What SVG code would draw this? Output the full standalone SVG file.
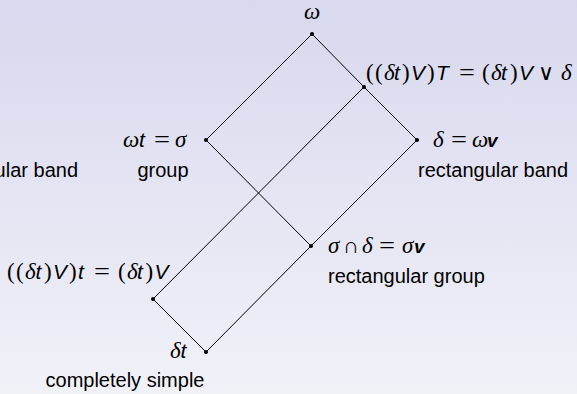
<svg xmlns="http://www.w3.org/2000/svg" width="577" height="394" viewBox="0 0 577 394">
<defs>
<linearGradient id="bg" x1="0" y1="0" x2="0" y2="1">
<stop offset="0" stop-color="#d8d8ee"/>
<stop offset="1" stop-color="#f1f1f8"/>
</linearGradient>
</defs>
<style>
.edge{stroke:#000;stroke-width:1;fill:none}
.dot{fill:#000}
.lbl{font-family:"Liberation Sans",Arial,sans-serif;font-size:20px;fill:#000}
.m{font-family:"Liberation Serif","Times New Roman",serif;font-size:23px;fill:#000}
.g{font-style:italic}
.s{font-family:"Liberation Sans",Arial,sans-serif;font-style:italic;font-size:21px}
.v{font-family:"Liberation Sans",Arial,sans-serif;font-style:italic;font-weight:bold;font-size:19px}
.op{font-family:"DejaVu Sans ExtraLight","DejaVu Sans",sans-serif;font-weight:200;font-size:22px}
.eq{font-family:"Liberation Serif","Times New Roman",serif;font-size:23px;fill:#000}
</style>
<rect width="577" height="394" fill="url(#bg)"/>
<g id="connectors">
<line class="edge" x1="312" y1="34" x2="206" y2="140"/>
<line class="edge" x1="312" y1="34" x2="364" y2="87"/>
<line class="edge" x1="364" y1="87" x2="417" y2="140"/>
<line class="edge" x1="206" y1="140" x2="311" y2="246"/>
<line class="edge" x1="417" y1="140" x2="311" y2="246"/>
<line class="edge" x1="311" y1="246" x2="206" y2="352"/>
<line class="edge" x1="364" y1="87" x2="153" y2="299"/>
<line class="edge" x1="153" y1="299" x2="206" y2="352"/>
</g>
<g id="n-omega">
<circle class="dot" cx="312" cy="34" r="2"/>
<text class="m g" x="312" y="19" text-anchor="middle">ω</text>
</g>
<g id="n-dtVT">
<circle class="dot" cx="364" cy="87" r="2"/>
<text class="m" y="80"><tspan x="366">(</tspan><tspan x="375">(</tspan><tspan x="384" class="g">δ</tspan><tspan x="394" class="s">t</tspan><tspan x="402">)</tspan><tspan x="411" class="s">V</tspan><tspan x="427">)</tspan><tspan x="436" class="s">T</tspan><tspan x="482">(</tspan><tspan x="491" class="g">δ</tspan><tspan x="501" class="s">t</tspan><tspan x="510">)</tspan><tspan x="519" class="s">V</tspan><tspan x="538" class="op">∨</tspan><tspan x="561" class="g">δ</tspan></text>
<text class="eq" x="459" y="80" textLength="16" lengthAdjust="spacingAndGlyphs">=</text>
</g>
<g id="n-sigma">
<circle class="dot" cx="206" cy="140" r="2"/>
<text class="m" y="147"><tspan x="123" class="g">ω</tspan><tspan x="139" class="s">t</tspan><tspan x="175" class="g">σ</tspan></text>
<text class="eq" x="154" y="147" textLength="16" lengthAdjust="spacingAndGlyphs">=</text>
<text class="lbl" x="163" y="177" text-anchor="middle">group</text>
</g>
<g id="n-delta">
<circle class="dot" cx="417" cy="140" r="2"/>
<text class="m" y="147"><tspan x="433" class="g">δ</tspan><tspan x="472" class="g">ω</tspan><tspan x="487" class="v">v</tspan></text>
<text class="eq" x="451" y="147" textLength="16" lengthAdjust="spacingAndGlyphs">=</text>
<text class="lbl" x="418" y="177">rectangular band</text>
</g>
<g id="n-left-band">
<text class="lbl" x="78" y="177" text-anchor="end">rectangular band</text>
</g>
<g id="n-sigmav">
<circle class="dot" cx="311" cy="246" r="2"/>
<text class="m" y="253"><tspan x="328" class="g">σ</tspan><tspan x="343" class="op">∩</tspan><tspan x="362" class="g">δ</tspan><tspan x="402" class="g">σ</tspan><tspan x="414" class="v">v</tspan></text>
<text class="eq" x="379" y="253" textLength="16" lengthAdjust="spacingAndGlyphs">=</text>
<text class="lbl" x="328" y="283">rectangular group</text>
</g>
<g id="n-dtVt">
<circle class="dot" cx="153" cy="299" r="2"/>
<text class="m" y="279"><tspan x="7">(</tspan><tspan x="16">(</tspan><tspan x="25" class="g">δ</tspan><tspan x="35.5" class="s">t</tspan><tspan x="44">)</tspan><tspan x="53" class="s">V</tspan><tspan x="69">)</tspan><tspan x="78" class="s">t</tspan><tspan x="118">(</tspan><tspan x="127" class="g">δ</tspan><tspan x="137" class="s">t</tspan><tspan x="145.5">)</tspan><tspan x="154.5" class="s">V</tspan></text>
<text class="eq" x="94" y="279" textLength="16" lengthAdjust="spacingAndGlyphs">=</text>
</g>
<g id="n-dt">
<circle class="dot" cx="206" cy="352" r="2"/>
<text class="m" y="358"><tspan x="170" class="g">δ</tspan><tspan x="180.5" class="s">t</tspan></text>
<text class="lbl" x="125" y="387" text-anchor="middle">completely simple</text>
</g>
</svg>
